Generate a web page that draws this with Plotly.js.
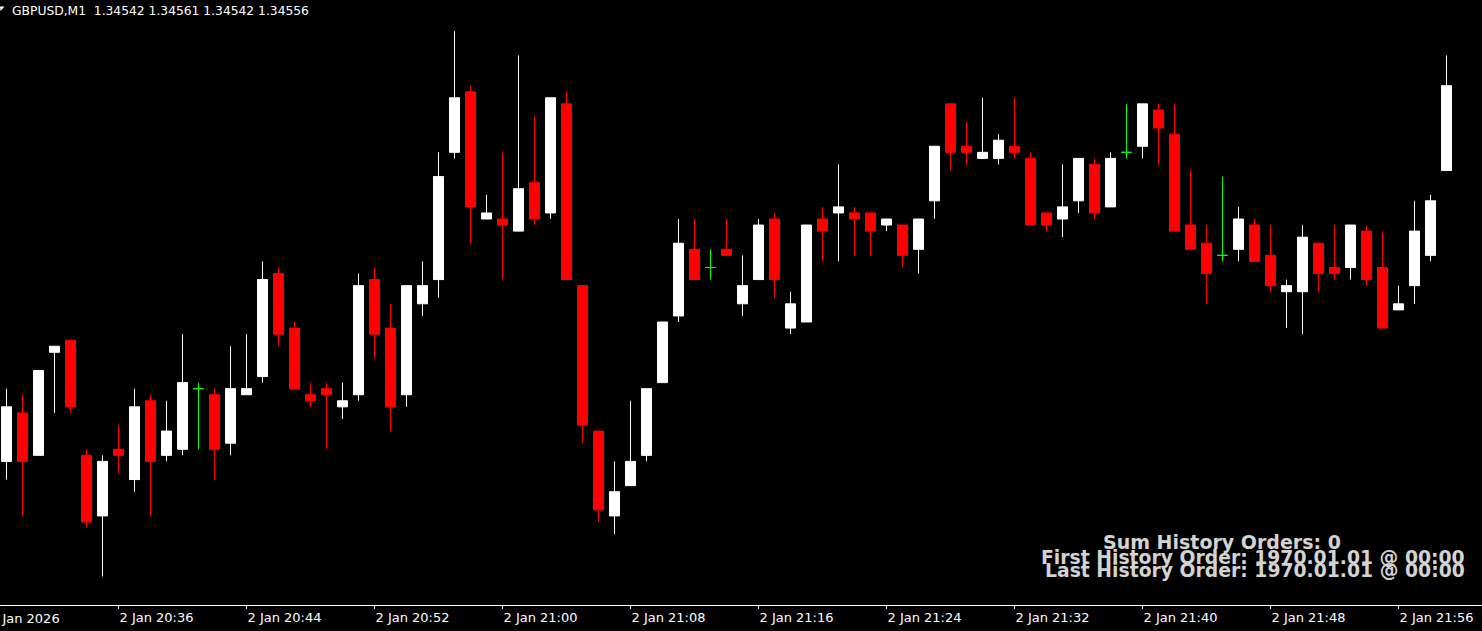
<!DOCTYPE html>
<html><head><meta charset="utf-8">
<script src="https://cdn.plot.ly/plotly-3.0.1.min.js"></script>
<style>html,body{margin:0;padding:0;background:#000;overflow:hidden}#chart{width:1482px;height:631px}</style>
</head><body><div id="chart"></div>
<script>
const symbol = 'GBPUSD,M1';
const dayLabel = '2 Jan';
const firstLabel = '2 Jan 2026';
const startHour = 20, startMinute = 29;
const barsPerLabel = 8;

const open = [
1.34494,1.34502,1.34495,1.34512,1.34514,1.34495,1.34485,1.34496,1.34491,1.34504,
1.34495,1.34496,1.34506,1.34505,1.34497,1.34505,1.34508,1.34525,1.34516,1.34505,
1.34506,1.34503,1.34505,1.34524,1.34516,1.34505,1.34520,1.34524,1.34545,1.34555,
1.34534,1.34534,1.34532,1.34540,1.34535,1.34553,1.34523,1.34499,1.34485,1.34490,
1.34495,1.34507,1.34518,1.34529,1.34526,1.34529,1.34520,1.34524,1.34534,1.34516,
1.34517,1.34534,1.34535,1.34535,1.34535,1.34533,1.34533,1.34529,1.34537,1.34553,
1.34546,1.34544,1.34544,1.34546,1.34544,1.34535,1.34534,1.34537,1.34543,1.34536,
1.34545,1.34546,1.34552,1.34548,1.34533,1.34530,1.34528,1.34529,1.34533,1.34528,
1.34522,1.34522,1.34530,1.34526,1.34526,1.34532,1.34526,1.34519,1.34523,1.34528,
1.34542];
const high = [
1.34506,1.34505,1.34509,1.34513,1.34514,1.34496,1.34495,1.34500,1.34506,1.34505,
1.34504,1.34515,1.34507,1.34506,1.34513,1.34515,1.34527,1.34526,1.34517,1.34507,
1.34507,1.34507,1.34525,1.34526,1.34520,1.34523,1.34527,1.34545,1.34565,1.34556,
1.34538,1.34545,1.34561,1.34551,1.34554,1.34555,1.34523,1.34499,1.34494,1.34504,
1.34506,1.34517,1.34534,1.34534,1.34529,1.34534,1.34528,1.34534,1.34535,1.34522,
1.34533,1.34536,1.34543,1.34536,1.34535,1.34534,1.34533,1.34534,1.34546,1.34553,
1.34550,1.34554,1.34548,1.34554,1.34545,1.34535,1.34543,1.34544,1.34544,1.34545,
1.34553,1.34553,1.34553,1.34553,1.34542,1.34533,1.34541,1.34536,1.34534,1.34533,
1.34524,1.34533,1.34530,1.34533,1.34533,1.34533,1.34532,1.34523,1.34537,1.34538,
1.34561];
const low = [
1.34491,1.34485,1.34495,1.34502,1.34502,1.34483,1.34475,1.34492,1.34489,1.34485,
1.34494,1.34495,1.34496,1.34491,1.34495,1.34505,1.34507,1.34513,1.34506,1.34503,
1.34496,1.34501,1.34504,1.34511,1.34499,1.34503,1.34518,1.34521,1.34544,1.34530,
1.34534,1.34524,1.34532,1.34533,1.34534,1.34524,1.34497,1.34484,1.34482,1.34490,
1.34494,1.34507,1.34517,1.34524,1.34524,1.34528,1.34518,1.34524,1.34521,1.34515,
1.34517,1.34527,1.34527,1.34528,1.34528,1.34532,1.34526,1.34525,1.34534,1.34542,
1.34543,1.34544,1.34543,1.34544,1.34533,1.34532,1.34531,1.34535,1.34534,1.34536,
1.34544,1.34544,1.34543,1.34532,1.34529,1.34520,1.34527,1.34527,1.34527,1.34522,
1.34516,1.34515,1.34522,1.34524,1.34524,1.34523,1.34516,1.34519,1.34520,1.34527,
1.34542];
const close = [
1.34503,1.34494,1.34509,1.34513,1.34503,1.34484,1.34494,1.34495,1.34503,1.34494,
1.34499,1.34507,1.34506,1.34496,1.34506,1.34506,1.34524,1.34515,1.34506,1.34504,
1.34505,1.34504,1.34523,1.34515,1.34503,1.34523,1.34523,1.34541,1.34554,1.34536,
1.34535,1.34533,1.34539,1.34534,1.34554,1.34524,1.34500,1.34486,1.34489,1.34494,
1.34506,1.34517,1.34530,1.34524,1.34526,1.34528,1.34523,1.34533,1.34524,1.34520,
1.34533,1.34532,1.34536,1.34534,1.34532,1.34534,1.34528,1.34534,1.34546,1.34545,
1.34545,1.34545,1.34547,1.34545,1.34533,1.34533,1.34536,1.34544,1.34535,1.34544,
1.34545,1.34553,1.34549,1.34532,1.34529,1.34525,1.34528,1.34534,1.34527,1.34523,
1.34523,1.34531,1.34525,1.34525,1.34533,1.34524,1.34516,1.34520,1.34532,1.34537,
1.34556];

const infoLines = [
  'Sum History Orders: 0',
  'First History Order: 1970.01.01 @ 00:00',
  'Last History Order: 1970.01.01 @ 00:00'
];

// minute timestamps of the bars
const pad = n => (n < 10 ? '0' : '') + n;
const times = open.map((_, i) => {
  const m = startHour * 60 + startMinute + i;
  return pad(Math.floor(m / 60)) + ':' + pad(m % 60);
});
const idx = open.map((_, i) => i);
const tickVals = [], tickText = [];
times.forEach((t, i) => { if ((i + 1) % barsPerLabel === 0) { tickVals.push(i); tickText.push(dayLabel + ' ' + t); } });

const isDoji = idx.map(i => open[i] === close[i]);
const pick = (arr, want) => arr.filter((_, i) => isDoji[i] === want);

const last = open.length - 1;
const header = symbol + '  ' + [open[last], high[last], low[last], close[last]].map(v => v.toFixed(5)).join(' ');

const W = 1482, PH = 605;
const px = x => x / W;
const py = y => 1 - y / PH;

const traces = [
  {
    type: 'candlestick', x: pick(idx, false), open: pick(open, false), high: pick(high, false),
    low: pick(low, false), close: pick(close, false),
    increasing: {line: {color: '#ffffff', width: 1}, fillcolor: '#ffffff'},
    decreasing: {line: {color: '#ff0000', width: 1}, fillcolor: '#ff0000'},
    hoverinfo: 'skip'
  },
  {
    type: 'candlestick', x: pick(idx, true), open: pick(open, true), high: pick(high, true),
    low: pick(low, true), close: pick(close, true),
    increasing: {line: {color: '#00ff00', width: 1}, fillcolor: '#00ff00'},
    decreasing: {line: {color: '#00ff00', width: 1}, fillcolor: '#00ff00'},
    hoverinfo: 'skip'
  }
];

const yTop = 1.3457014, yBot = 1.3447030;

const layout = {
  width: W, height: 631,
  margin: {l: 0, r: 0, t: 0, b: 631 - PH, pad: 0},
  paper_bgcolor: '#000000', plot_bgcolor: '#000000',
  showlegend: false,
  boxgap: 0.375, boxgroupgap: 0,
  xaxis: {
    range: [-6.5 / 16, (W - 6.5) / 16],
    rangeslider: {visible: false},
    showgrid: false, zeroline: false,
    showline: true, linecolor: '#ffffff', linewidth: 1,
    ticks: 'outside', ticklen: 3, tickcolor: '#ffffff', tickwidth: 1,
    tickvals: tickVals, ticktext: tickText,
    tickangle: 0,
    ticklabelposition: 'outside right',
    ticklabeloverflow: 'allow',
    tickfont: {family: 'DejaVu Sans', size: 13, color: '#ffffff'}
  },
  yaxis: {range: [yBot, yTop], visible: false, showgrid: false, zeroline: false},
  shapes: [
    {type: 'path', xref: 'paper', yref: 'paper',
     path: 'M ' + px(0) + ',' + py(6.5) + ' L ' + px(4.5) + ',' + py(6.5) + ' L ' + px(0.5) + ',' + py(11) + ' Z',
     fillcolor: '#ffffff', line: {width: 0}}
  ],
  annotations: [
    {xref: 'paper', yref: 'paper', x: px(11), y: py(11.5), xanchor: 'left', yanchor: 'middle',
     text: header, showarrow: false, borderpad: 0,
     font: {family: 'DejaVu Sans', size: 12.3, color: '#ffffff'}},
    {xref: 'paper', yref: 'paper', x: px(-11), y: py(618), xanchor: 'left', yanchor: 'middle',
     text: firstLabel, showarrow: false, borderpad: 0,
     font: {family: 'DejaVu Sans', size: 13, color: '#ffffff'}},
    {xref: 'paper', yref: 'paper', x: px(1342), y: py(541.5), xanchor: 'right', yanchor: 'middle',
     text: infoLines[0], showarrow: false, borderpad: 0,
     font: {family: 'DejaVu Sans', size: 19, weight: 700, color: '#d3d3d3'}},
    {xref: 'paper', yref: 'paper', x: px(1466), y: py(557), xanchor: 'right', yanchor: 'middle',
     text: infoLines[1], showarrow: false, borderpad: 0,
     font: {family: 'DejaVu Sans', size: 18.8, weight: 700, color: '#d3d3d3'}},
    {xref: 'paper', yref: 'paper', x: px(1466), y: py(570.5), xanchor: 'right', yanchor: 'middle',
     text: infoLines[2], showarrow: false, borderpad: 0,
     font: {family: 'DejaVu Sans', size: 18.8, weight: 700, color: '#d3d3d3'}}
  ]
};

Plotly.newPlot('chart', traces, layout, {displayModeBar: false, staticPlot: true});
</script>
</body></html>
